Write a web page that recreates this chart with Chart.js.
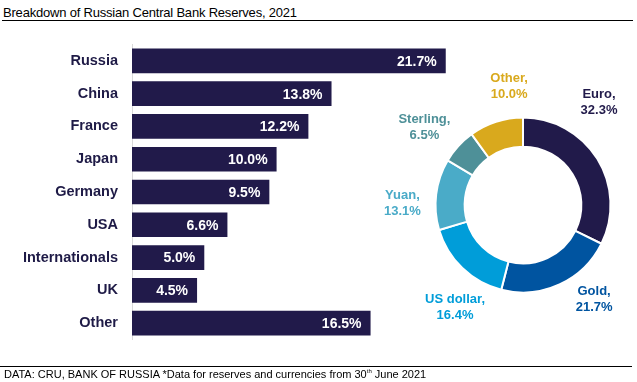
<!DOCTYPE html>
<html>
<head>
<meta charset="utf-8">
<script src="https://cdn.jsdelivr.net/npm/chart.js@4.4.0/dist/chart.umd.min.js"></script>
<style>
  html, body { margin: 0; padding: 0; background: #fff; }
  #page { position: relative; width: 637px; height: 382px; overflow: hidden; font-family: "Liberation Sans", Arial, sans-serif; }
  #title { position: absolute; left: 3px; top: 5px; font-size: 13px; letter-spacing: -0.2px; color: #000; white-space: nowrap; }
  #titleRule { position: absolute; left: 2px; top: 20px; width: 631px; height: 1px; background: #000; }
  #footRule { position: absolute; left: 0; top: 366px; width: 632px; height: 1px; background: #000; }
  #foot { position: absolute; left: 4px; top: 368px; font-size: 11px; color: #000; white-space: nowrap; }
  #foot sup { font-size: 6px; vertical-align: 5px; line-height: 0; }
  canvas { position: absolute; left: 0; top: 0; }
</style>
</head>
<body>
<div id="page">
  <div id="title">Breakdown of Russian Central Bank Reserves, 2021</div>
  <div id="titleRule"></div>
  <canvas id="bars" width="479" height="382"></canvas>
  <canvas id="donut" width="637" height="382"></canvas>
  <div id="footRule"></div>
  <div id="foot">DATA: CRU, BANK OF RUSSIA *Data for reserves and currencies from 30<sup>th</sup> June 2021</div>
</div>
<script>
// reserves held by country (share of total, %)
var countries = ["Russia", "China", "France", "Japan", "Germany", "USA", "Internationals", "UK", "Other"];
var countryShares = [21.7, 13.8, 12.2, 10.0, 9.5, 6.6, 5.0, 4.5, 16.5];

// reserves by currency (share of total, %)
var currencies = ["Euro", "Gold", "US dollar", "Yuan", "Sterling", "Other"];
var currencyShares = [32.3, 21.7, 16.4, 13.1, 6.5, 10.0];

var navy = "#211a4a";
var currencyColors = [navy, "#0054a0", "#009dd9", "#4aabc8", "#4e9098", "#d9a91d"];
// small shifts so the donut labels sit where the original had them
var labelNudge = [[-28, -38], [20, -17], [17, 14], [1, 13], [-8, 5], [24, -2]];

var barValueLabels = {
  id: 'barValueLabels',
  afterDatasetsDraw: function(chart) {
    var ctx = chart.ctx;
    ctx.save();
    ctx.font = 'bold 14px "Liberation Sans", Arial, sans-serif';
    ctx.fillStyle = "#fff";
    ctx.textAlign = "right";
    ctx.textBaseline = "middle";
    chart.getDatasetMeta(0).data.forEach(function(bar, i) {
      ctx.fillText(countryShares[i].toFixed(1) + "%", bar.x - 9, bar.y + 1);
    });
    ctx.restore();
  }
};

var donutLabels = {
  id: 'donutLabels',
  afterDatasetsDraw: function(chart) {
    var ctx = chart.ctx;
    ctx.save();
    ctx.font = 'bold 13px "Liberation Sans", Arial, sans-serif';
    ctx.textAlign = "center";
    ctx.textBaseline = "middle";
    chart.getDatasetMeta(0).data.forEach(function(arc, i) {
      var p = arc.getProps(['x', 'y', 'startAngle', 'endAngle', 'outerRadius'], true);
      var mid = (p.startAngle + p.endAngle) / 2;
      var r = p.outerRadius + 35;
      var x = p.x + Math.cos(mid) * r + labelNudge[i][0];
      var y = p.y + Math.sin(mid) * r + labelNudge[i][1];
      ctx.fillStyle = currencyColors[i];
      ctx.fillText(currencies[i] + ",", x, y - 8);
      ctx.fillText(currencyShares[i].toFixed(1) + "%", x, y + 8);
    });
    ctx.restore();
  }
};

new Chart(document.getElementById("bars"), {
  type: 'bar',
  data: {
    labels: countries,
    datasets: [{
      data: countryShares,
      backgroundColor: navy,
      categoryPercentage: 1,
      barPercentage: 0.755
    }]
  },
  options: {
    indexAxis: 'y',
    responsive: false,
    animation: false,
    layout: { padding: { top: 44.6, bottom: 42.6, left: 0, right: 0 } },
    plugins: { legend: { display: false }, tooltip: { enabled: false } },
    scales: {
      x: { display: false, min: 0, max: 24 },
      y: {
        grid: { display: false, drawTicks: false },
        border: { display: true, color: "#d9d9d9", width: 1 },
        ticks: {
          padding: 14,
          color: "#1e1a46",
          font: { family: '"Liberation Sans", Arial, sans-serif', size: 14.5, weight: 'bold' }
        },
        afterFit: function(scale) { scale.width = 132; }
      }
    }
  },
  plugins: [barValueLabels]
});

new Chart(document.getElementById("donut"), {
  type: 'doughnut',
  data: {
    labels: currencies,
    datasets: [{
      data: currencyShares,
      backgroundColor: currencyColors,
      borderColor: "#fff",
      borderWidth: 2
    }]
  },
  options: {
    responsive: false,
    animation: false,
    radius: 87.5,
    cutout: '66.7%',
    layout: { padding: { left: 409, right: 0, top: 28, bottom: 0 } },
    plugins: { legend: { display: false }, tooltip: { enabled: false } }
  },
  plugins: [donutLabels]
});
</script>
</body>
</html>
